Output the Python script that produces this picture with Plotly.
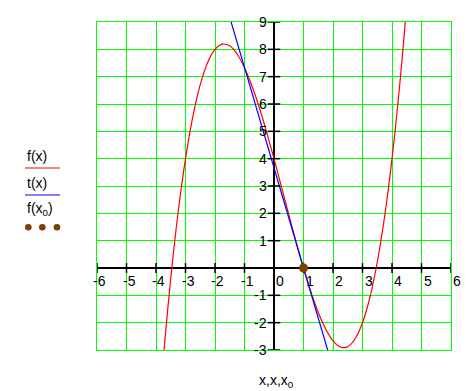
import plotly.graph_objects as go

# Curve f(x)
fx = [-3.75, -3.5, -3.25, -3.0, -2.75, -2.5, -2.25, -2.0, -1.75, -1.5, -1.25, -1.0,
      -0.75, -0.5, -0.25, 0.0, 0.25, 0.5, 0.75, 1.0, 1.25, 1.5, 1.75, 2.0, 2.25, 2.5,
      2.75, 3.0, 3.25, 3.5, 3.75, 4.0, 4.25, 4.5]
fy = [-3.27, -0.38, 2.04, 4.0, 5.55, 6.71, 7.52, 8.0, 8.19, 8.13, 7.83, 7.33,
      6.67, 5.88, 4.97, 4.0, 2.98, 1.96, 0.95, 0.0, -0.87, -1.63, -2.23, -2.67, -2.89, -2.88,
      -2.59, -2.0, -1.08, 0.21, 1.89, 4.0, 6.57, 9.63]
# Tangent line t(x)
tx = [-6.0, 6.0]
ty = [25.67, -18.33]
# Point f(x0)
px = [1.0]
py = [0.0]

xticks = [-6, -5, -4, -3, -2, -1, 0, 1, 2, 3, 4, 5, 6]
yticks = [-3, -2, -1, 1, 2, 3, 4, 5, 6, 7, 8, 9]

FONT = "Liberation Sans, Arial, sans-serif"
W, H = 474, 391
L, R, T, B = 97, 23, 22, 41

fig = go.Figure()
fig.add_trace(go.Scatter(x=fx, y=fy, mode="lines", line=dict(color="#ff0000", width=1.2, shape="spline"),
                         showlegend=False, hoverinfo="skip"))
fig.add_trace(go.Scatter(x=tx, y=ty, mode="lines", line=dict(color="#0000ff", width=1.2),
                         showlegend=False, hoverinfo="skip"))
# axis tick marks on the crossing axes
fig.add_trace(go.Scatter(x=[0] * len(yticks), y=yticks, mode="markers",
                         marker=dict(symbol="line-ew", size=9, line=dict(color="black", width=1.5)),
                         showlegend=False, hoverinfo="skip"))
fig.add_trace(go.Scatter(x=xticks, y=[0] * len(xticks), mode="markers",
                         marker=dict(symbol="line-ns", size=7, line=dict(color="black", width=1.5)),
                         showlegend=False, hoverinfo="skip"))
fig.add_trace(go.Scatter(x=px, y=py, mode="markers", marker=dict(color="#7f3f00", size=9),
                         showlegend=False, hoverinfo="skip"))

ann = []
for v in xticks:
    ann.append(dict(x=v, y=0, xref="x", yref="y", text=str(v), showarrow=False,
                    xanchor="left", yanchor="top", xshift=(-6 if v < 0 else 0), yshift=-3,
                    font=dict(family=FONT, size=14, color="black")))
for v in yticks:
    ann.append(dict(x=0, y=v, xref="x", yref="y", text=str(v), showarrow=False,
                    xanchor="right", yanchor="middle", xshift=-5,
                    font=dict(family=FONT, size=14, color="black")))

pw, ph = W - L - R, H - T - B
def pxp(x):
    return (x - L) / pw
def pyp(y):
    return (H - B - y) / ph

for txt, yc in [("f(x)", 155.5), ("t(x)", 182.5), ("f(x<sub>0</sub>)", 209)]:
    ann.append(dict(x=pxp(25), y=pyp(yc), xref="paper", yref="paper", text=txt, showarrow=False,
                    xanchor="left", yanchor="middle", font=dict(family=FONT, size=14, color="black")))
ann.append(dict(x=pxp(276), y=pyp(381), xref="paper", yref="paper", text="x,x,x<sub>0</sub>",
                showarrow=False, xanchor="center", yanchor="middle",
                font=dict(family=FONT, size=14, color="black")))

shapes = [
    dict(type="line", xref="paper", yref="paper", x0=pxp(25), x1=pxp(60), y0=pyp(168), y1=pyp(168),
         line=dict(color="#ff0000", width=1.2)),
    dict(type="line", xref="paper", yref="paper", x0=pxp(25), x1=pxp(60), y0=pyp(195), y1=pyp(195),
         line=dict(color="#0000ff", width=1.2)),
]
for cx in [28.3, 42.3, 57]:
    r = 3.3
    shapes.append(dict(type="circle", xref="paper", yref="paper",
                       x0=pxp(cx - r), x1=pxp(cx + r), y0=pyp(227.3 + r), y1=pyp(227.3 - r),
                       fillcolor="#7f3f00", line=dict(width=0)))

fig.update_layout(
    width=W, height=H, margin=dict(l=L, r=R, t=T, b=B),
    paper_bgcolor="white", plot_bgcolor="white",
    xaxis=dict(range=[-6, 6], dtick=1, tick0=0, showgrid=True, gridcolor="#00ff00", gridwidth=1.4,
               showticklabels=False, ticks="", zeroline=True, zerolinecolor="black", zerolinewidth=1.5,
               showline=True, linecolor="#00ff00", linewidth=1.4, mirror=True, fixedrange=True),
    yaxis=dict(range=[-3, 9], dtick=1, tick0=0, showgrid=True, gridcolor="#00ff00", gridwidth=1.4,
               showticklabels=False, ticks="", zeroline=True, zerolinecolor="black", zerolinewidth=1.5,
               showline=True, linecolor="#00ff00", linewidth=1.4, mirror=True, fixedrange=True),
    annotations=ann, shapes=shapes, showlegend=False,
)
fig.write_html("out.html")
